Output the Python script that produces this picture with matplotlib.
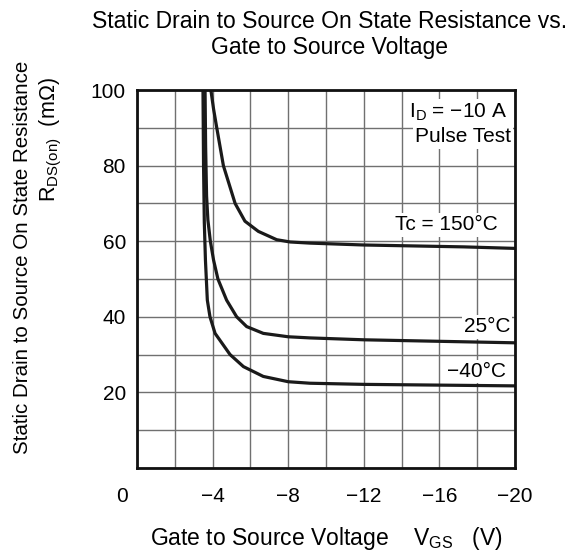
import matplotlib.pyplot as plt
import numpy as np

plt.rcParams['font.family'] = ['Liberation Sans', 'DejaVu Sans']

# Gate-source voltage (V) and R_DS(on) (mOhm)
vgs_150 = [-3.88, -3.92, -4.05, -4.22, -4.57, -5.19, -5.71, -6.42, -7.39, -8.1, -9.15, -12.0, -17.3, -20.0]
r_150 = [100, 99.6, 95, 90, 80, 70, 65.3, 62.6, 60.4, 59.8, 59.5, 59.0, 58.5, 58.1]

vgs_25 = [-3.60, -3.63, -3.68, -3.75, -3.88, -4.05, -4.28, -4.74, -5.27, -5.80, -6.68, -8.0, -9.15, -12.0, -20.0]
r_25 = [100, 85, 72, 65.6, 60, 55, 50, 44.4, 40, 37.4, 35.6, 34.7, 34.4, 33.9, 33.1]

vgs_m40 = [-3.49, -3.52, -3.56, -3.62, -3.72, -3.86, -4.13, -4.92, -5.63, -6.68, -8.0, -9.15, -12.0, -20.0]
r_m40 = [100, 80, 65, 55, 44.4, 40, 35.6, 30, 26.8, 24.2, 22.8, 22.4, 22.1, 21.7]

xticks = [-4, -8, -12, -16, -20]
yticks = [20, 40, 60, 80, 100]

fig = plt.figure(figsize=(5.88, 5.53), dpi=100)
ax = fig.add_axes([0.233, 0.154, 0.643, 0.683])

ax.set_xlim(0, -20)
ax.set_ylim(0, 100)
ax.grid(True, color='#707070', linewidth=1.0)
ax.set_axisbelow(True)

xgrid = np.arange(0, -21, -2)
ygrid = np.arange(0, 101, 10)
ax.set_xticks(xgrid)
ax.set_yticks(ygrid)
ax.set_xticklabels(['\u2212%d' % abs(v) if v in xticks else '' for v in xgrid])
ax.set_yticklabels(['%d' % v if v in yticks else '' for v in ygrid])
ax.tick_params(length=0, labelsize=15, pad=8)
ax.tick_params(axis='x', pad=14)
ax.text(-0.04, -0.076, '0', transform=ax.transAxes, fontsize=15, ha='center', va='center')

for s in ax.spines.values():
    s.set_linewidth(2)
    s.set_color('#111111')

for xs, ys in [(vgs_150, r_150), (vgs_25, r_25), (vgs_m40, r_m40)]:
    ax.plot(xs, ys, color='#1a1a1a', linewidth=2.3, solid_joinstyle='round')

box = dict(facecolor='white', edgecolor='none', pad=1.5)
ax.text(-19.6, 94.2, 'I$_\\mathregular{D}$ = \u221210 A', fontsize=15, ha='right', va='center', bbox=box)
ax.text(-19.8, 87.6, 'Pulse Test', fontsize=15, ha='right', va='center', bbox=box)
ax.text(-19.1, 64.3, 'Tc = 150\u00b0C', fontsize=15, ha='right', va='center', bbox=box)
ax.text(-19.75, 37.3, '25\u00b0C', fontsize=15, ha='right', va='center', bbox=box)
ax.text(-19.5, 25.4, '\u221240\u00b0C', fontsize=15, ha='right', va='center', bbox=box)

fig.text(0.561, 0.962, 'Static Drain to Source On State Resistance vs.', fontsize=16.5, ha='center', va='center')
fig.text(0.561, 0.915, 'Gate to Source Voltage', fontsize=16.5, ha='center', va='center')

fig.text(0.555, 0.027, 'Gate to Source Voltage    V$_\\mathregular{GS}$   (V)', fontsize=16.5, ha='center', va='center')
fig.text(0.039, 0.535, 'Static Drain to Source On State Resistance', fontsize=14.8, ha='center', va='center', rotation=90)
fig.text(0.087, 0.747, 'R$_\\mathregular{DS(on)}$  (m\u03a9)', fontsize=15.5, ha='center', va='center', rotation=90)

fig.savefig('out.png', dpi=100)
